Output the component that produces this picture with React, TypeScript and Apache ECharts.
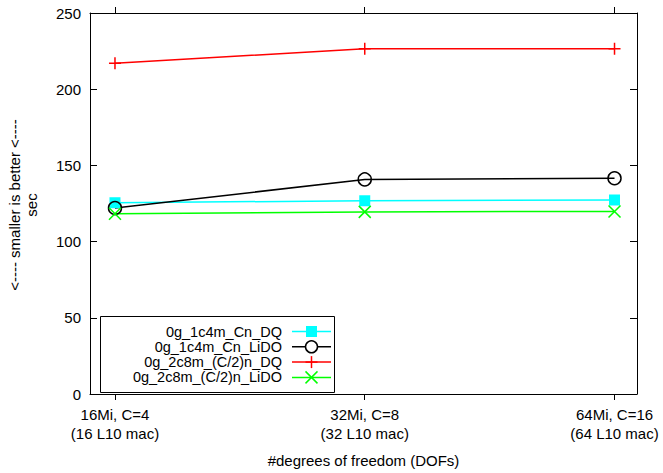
import React, { useEffect, useRef } from "react";
import * as echarts from "echarts";

const categories = ["16Mi, C=4\n(16 L10 mac)", "32Mi, C=8\n(32 L10 mac)", "64Mi, C=16\n(64 L10 mac)"];
const catPos = [0, 1, 2];
const seriesNames = ["0g_1c4m_Cn_DQ", "0g_1c4m_Cn_LiDO", "0g_2c8m_(C/2)n_DQ", "0g_2c8m_(C/2)n_LiDO"];
const dq1 = [125.5, 126.8, 127.3];
const lido1 = [122, 140.8, 141.6];
const dq2 = [217, 226.5, 226.6];
const lido2 = [118.3, 119.5, 119.8];
const yTicks = { min: 0, max: 250, interval: 50 };

const FONT = "Liberation Sans";
const FS = 15;
const LFS = 14.5;
const plusPath = "path://M0,5L10,5M5,0L5,10";
const crossPath = "path://M0,0L10,10M10,0L0,10";

export default function App() {
  const ref = useRef<HTMLDivElement>(null);
  useEffect(() => {
    if (!ref.current) return;
    const chart = echarts.init(ref.current, null, { renderer: "svg" });
    const toData = (arr: number[]) => arr.map((v, i) => [catPos[i], v]);
    const lx0 = 292, lx1 = 331, lxc = 311.5, ltx = 282;
    const rows = [331.5, 346.8, 362.1, 377.4];
    const legendGraphics: any[] = [
      { type: "rect", shape: { x: 100.5, y: 316.5, width: 234, height: 76 }, style: { fill: "#fff", stroke: "#000", lineWidth: 1 }, z: 100 },
    ];
    const colors = ["#00ffff", "#000000", "#ff0000", "#00ff00"];
    seriesNames.forEach((n, i) => {
      const y = rows[i];
      legendGraphics.push({ type: "text", x: ltx, y, style: { text: n, fill: "#000", font: `${LFS}px '${FONT}'`, textAlign: "right", textVerticalAlign: "middle" }, z: 101 });
      legendGraphics.push({ type: "line", shape: { x1: lx0, y1: y, x2: lx1, y2: y }, style: { stroke: colors[i], lineWidth: 1.5 }, z: 101 });
    });
    legendGraphics.push({ type: "rect", shape: { x: lxc - 5.5, y: rows[0] - 5.5, width: 11, height: 11 }, style: { fill: "#00ffff" }, z: 102 });
    legendGraphics.push({ type: "circle", shape: { cx: lxc, cy: rows[1], r: 6 }, style: { fill: "#fff", stroke: "#000", lineWidth: 1.5 }, z: 102 });
    legendGraphics.push({ type: "line", shape: { x1: lxc - 6, y1: rows[2], x2: lxc + 6, y2: rows[2] }, style: { stroke: "#ff0000", lineWidth: 1.5 }, z: 102 });
    legendGraphics.push({ type: "line", shape: { x1: lxc, y1: rows[2] - 6, x2: lxc, y2: rows[2] + 6 }, style: { stroke: "#ff0000", lineWidth: 1.5 }, z: 102 });
    legendGraphics.push({ type: "line", shape: { x1: lxc - 6, y1: rows[3] - 6, x2: lxc + 6, y2: rows[3] + 6 }, style: { stroke: "#00ff00", lineWidth: 1.5 }, z: 102 });
    legendGraphics.push({ type: "line", shape: { x1: lxc + 6, y1: rows[3] - 6, x2: lxc - 6, y2: rows[3] + 6 }, style: { stroke: "#00ff00", lineWidth: 1.5 }, z: 102 });

    const axisLineStyle = { color: "#000", width: 1 };
    chart.setOption({
      animation: false,
      backgroundColor: "#fff",
      textStyle: { fontFamily: FONT },
      grid: { left: 90, top: 13, right: 26, bottom: 75, containLabel: false },
      xAxis: [
        {
          type: "value", position: "bottom", min: -0.1, max: 2.09,
          axisLine: { show: true, onZero: false, lineStyle: axisLineStyle },
          axisTick: { show: true, inside: false, length: 6, customValues: catPos, lineStyle: axisLineStyle },
          axisLabel: { customValues: catPos, formatter: (v: number) => categories[Math.round(v)], color: "#000", fontSize: FS, fontFamily: FONT, lineHeight: 19, margin: 11 },
          splitLine: { show: false },
          name: "#degrees of freedom (DOFs)", nameLocation: "middle", nameGap: 59,
          nameTextStyle: { color: "#000", fontSize: FS, fontFamily: FONT },
        },
        {
          type: "value", position: "top", min: -0.1, max: 2.09,
          axisLine: { show: true, onZero: false, lineStyle: axisLineStyle },
          axisTick: { show: true, inside: false, length: 6, customValues: catPos, lineStyle: axisLineStyle },
          axisLabel: { show: false },
          splitLine: { show: false },
        },
      ],
      yAxis: [
        {
          type: "value", position: "left", min: yTicks.min, max: yTicks.max, interval: yTicks.interval,
          axisLine: { show: true, onZero: false, lineStyle: axisLineStyle },
          axisTick: { show: true, inside: true, length: 7, lineStyle: axisLineStyle },
          axisLabel: { color: "#000", fontSize: FS, fontFamily: FONT, margin: 9 },
          splitLine: { show: false },
        },
        {
          type: "value", position: "right", min: yTicks.min, max: yTicks.max, interval: yTicks.interval,
          axisLine: { show: true, onZero: false, lineStyle: axisLineStyle },
          axisTick: { show: true, inside: true, length: 7, lineStyle: axisLineStyle },
          axisLabel: { show: false },
          splitLine: { show: false },
        },
      ],
      series: [
        {
          name: seriesNames[0], type: "line", data: toData(dq1), xAxisIndex: 0, yAxisIndex: 0,
          symbol: "rect", symbolSize: 11, showAllSymbol: true,
          lineStyle: { color: "#00ffff", width: 1.5 }, itemStyle: { color: "#00ffff" },
        },
        {
          name: seriesNames[1], type: "line", data: toData(lido1), xAxisIndex: 0, yAxisIndex: 0,
          symbol: "circle", symbolSize: 13, showAllSymbol: true,
          lineStyle: { color: "#000", width: 1.5 }, itemStyle: { color: "rgba(0,0,0,0)", borderColor: "#000", borderWidth: 1.5 },
        },
        {
          name: seriesNames[2], type: "line", data: toData(dq2), xAxisIndex: 0, yAxisIndex: 0,
          symbol: plusPath, symbolSize: 12, showAllSymbol: true,
          lineStyle: { color: "#ff0000", width: 1.5 }, itemStyle: { color: "#ff0000", borderColor: "#ff0000", borderWidth: 1.5 },
        },
        {
          name: seriesNames[3], type: "line", data: toData(lido2), xAxisIndex: 0, yAxisIndex: 0,
          symbol: crossPath, symbolSize: 12, showAllSymbol: true,
          lineStyle: { color: "#00ff00", width: 1.5 }, itemStyle: { color: "#00ff00", borderColor: "#00ff00", borderWidth: 1.5 },
        },
      ],
      graphic: [
        { type: "text", x: 14, y: 205, rotation: Math.PI / 2, style: { text: "<---- smaller is better <----", fill: "#000", font: `${FS}px '${FONT}'`, textAlign: "center", textVerticalAlign: "middle" } },
        { type: "text", x: 31, y: 205, rotation: Math.PI / 2, style: { text: "sec", fill: "#000", font: `${FS}px '${FONT}'`, textAlign: "center", textVerticalAlign: "middle" } },
        ...legendGraphics,
      ],
    });
    return () => chart.dispose();
  }, []);
  return <div ref={ref} style={{ width: 663, height: 473, position: "absolute", left: 0, top: 0 }} />;
}
